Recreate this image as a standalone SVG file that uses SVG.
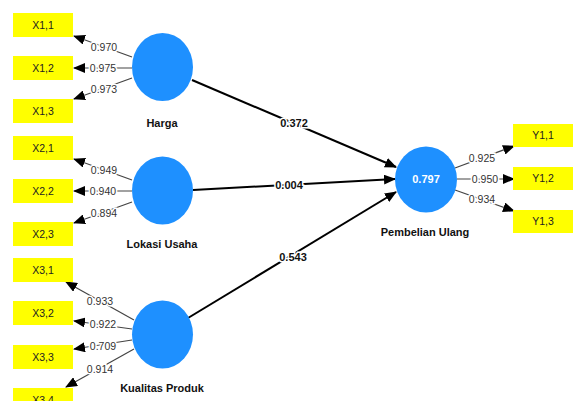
<svg xmlns="http://www.w3.org/2000/svg" width="576" height="401" viewBox="0 0 576 401">
<defs>
<marker id="ah" markerUnits="userSpaceOnUse" markerWidth="12" markerHeight="10" refX="11" refY="5" orient="auto"><path d="M0,0 L12,5 L0,10 Z" fill="#000"/></marker>
<style>
.box{fill:#ffff00}
.bt{font-family:"Liberation Sans",Arial,sans-serif;font-size:10.5px;fill:#222;text-anchor:middle}
.lv{fill:#1e90ff}
.ln{font-family:"Liberation Sans",Arial,sans-serif;font-size:11px;font-weight:bold;fill:#111;text-anchor:middle}
.ind{stroke:#444;stroke-width:1.2;fill:none;marker-end:url(#ah)}
.str{stroke:#000;stroke-width:2;fill:none;marker-end:url(#ah)}
.il{font-family:"Liberation Sans",Arial,sans-serif;font-size:10.5px;fill:#333;text-anchor:middle;stroke:#fff;stroke-width:3;paint-order:stroke}
.sl{font-family:"Liberation Sans",Arial,sans-serif;font-size:11px;font-weight:bold;fill:#111;text-anchor:middle;stroke:#fff;stroke-width:3;paint-order:stroke}
</style>
</defs>
<rect width="576" height="401" fill="#fff"/>
<g id="connectors">
<line class="ind" x1="132" y1="57" x2="74" y2="36"/>
<line class="ind" x1="132" y1="68" x2="74" y2="68"/>
<line class="ind" x1="132" y1="78" x2="74" y2="99"/>
<line class="ind" x1="132" y1="180" x2="74" y2="159"/>
<line class="ind" x1="132" y1="191" x2="74" y2="191"/>
<line class="ind" x1="132" y1="202" x2="74" y2="223"/>
<line class="ind" x1="134" y1="320" x2="66" y2="282"/>
<line class="ind" x1="132" y1="329" x2="74" y2="321"/>
<line class="ind" x1="132" y1="340" x2="74" y2="349"/>
<line class="ind" x1="134" y1="349" x2="66" y2="387"/>
<line class="ind" x1="455" y1="168" x2="514" y2="146"/>
<line class="ind" x1="457" y1="179" x2="514" y2="179"/>
<line class="ind" x1="455" y1="190" x2="514" y2="211"/>
<line class="str" x1="192" y1="80" x2="396" y2="167"/>
<line class="str" x1="193" y1="190" x2="395" y2="179"/>
<line class="str" x1="188" y1="318" x2="396" y2="192"/>
<text class="il" x="104" y="51">0.970</text>
<text class="il" x="103" y="72">0.975</text>
<text class="il" x="104" y="93">0.973</text>
<text class="il" x="104" y="174">0.949</text>
<text class="il" x="103" y="195">0.940</text>
<text class="il" x="104" y="217">0.894</text>
<text class="il" x="100" y="305">0.933</text>
<text class="il" x="103" y="328">0.922</text>
<text class="il" x="103" y="350">0.709</text>
<text class="il" x="100" y="373">0.914</text>
<text class="il" x="482" y="162">0.925</text>
<text class="il" x="485" y="183">0.950</text>
<text class="il" x="482" y="203">0.934</text>
<text class="sl" x="294" y="127">0.372</text>
<text class="sl" x="289" y="189">0.004</text>
<text class="sl" x="293" y="261">0.543</text>
</g>
<g id="X1_1"><rect class="box" x="13" y="13" width="60" height="24"/><text class="bt" x="43" y="29">X1,1</text></g>
<g id="X1_2"><rect class="box" x="13" y="56" width="60" height="24"/><text class="bt" x="43" y="72">X1,2</text></g>
<g id="X1_3"><rect class="box" x="13" y="99" width="60" height="24"/><text class="bt" x="43" y="115">X1,3</text></g>
<g id="X2_1"><rect class="box" x="13" y="136" width="60" height="24"/><text class="bt" x="43" y="152">X2,1</text></g>
<g id="X2_2"><rect class="box" x="13" y="179" width="60" height="24"/><text class="bt" x="43" y="195">X2,2</text></g>
<g id="X2_3"><rect class="box" x="13" y="222" width="60" height="24"/><text class="bt" x="43" y="238">X2,3</text></g>
<g id="X3_1"><rect class="box" x="13" y="258" width="60" height="24"/><text class="bt" x="43" y="274">X3,1</text></g>
<g id="X3_2"><rect class="box" x="13" y="301" width="60" height="24"/><text class="bt" x="43" y="317">X3,2</text></g>
<g id="X3_3"><rect class="box" x="13" y="345" width="60" height="24"/><text class="bt" x="43" y="361">X3,3</text></g>
<g id="X3_4"><rect class="box" x="13" y="388" width="60" height="24"/><text class="bt" x="43" y="404">X3,4</text></g>
<g id="Y1_1"><rect class="box" x="513" y="124" width="60" height="23"/><text class="bt" x="543" y="139">Y1,1</text></g>
<g id="Y1_2"><rect class="box" x="513" y="167" width="60" height="23"/><text class="bt" x="543" y="182">Y1,2</text></g>
<g id="Y1_3"><rect class="box" x="513" y="210" width="60" height="23"/><text class="bt" x="543" y="225">Y1,3</text></g>
<g id="Harga"><ellipse class="lv" cx="162.5" cy="67" rx="30.5" ry="34"/><text class="ln" x="162" y="127">Harga</text></g>
<g id="LokasiUsaha"><ellipse class="lv" cx="162.5" cy="190.5" rx="30.5" ry="34"/><text class="ln" x="162" y="248">Lokasi Usaha</text></g>
<g id="KualitasProduk"><ellipse class="lv" cx="162.5" cy="334.5" rx="30.5" ry="34"/><text class="ln" x="162" y="392">Kualitas Produk</text></g>
<g id="PembelianUlang"><ellipse class="lv" cx="426" cy="179.5" rx="31" ry="33"/><text class="ln" x="426" y="183" style="fill:#fff">0.797</text><text class="ln" x="425" y="236">Pembelian Ulang</text></g>
</svg>
